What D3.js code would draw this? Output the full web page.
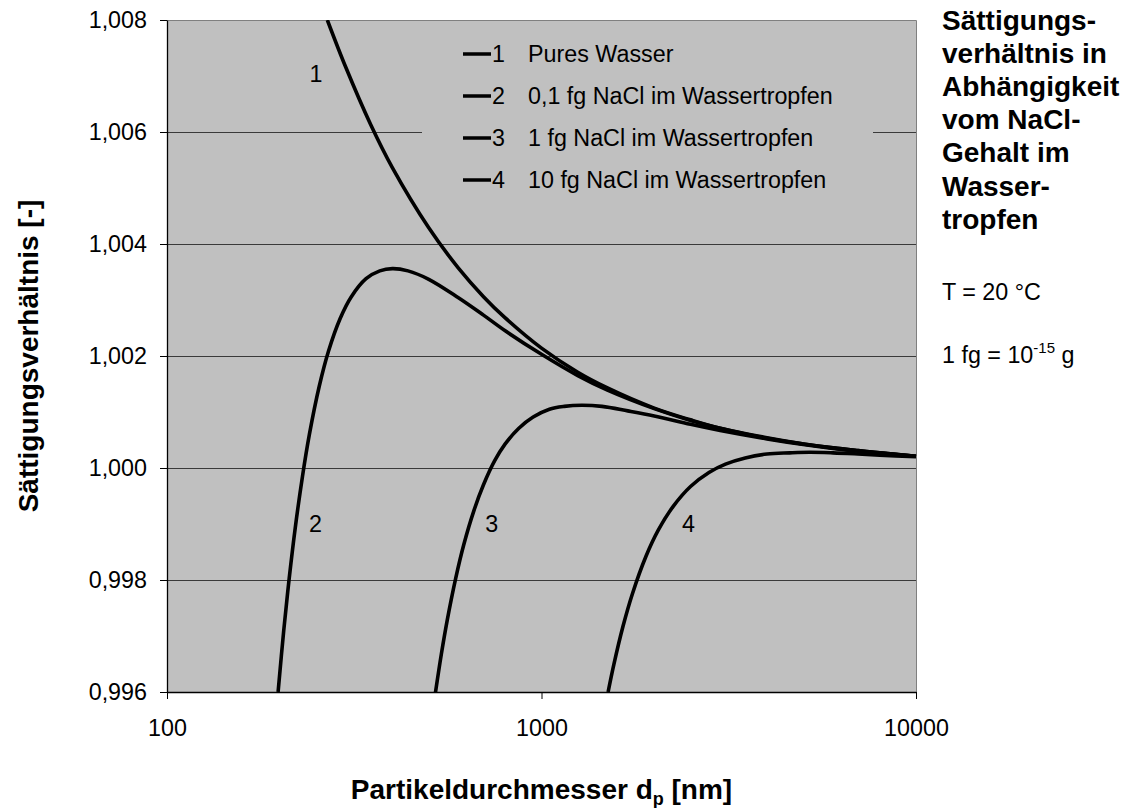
<!DOCTYPE html>
<html>
<head>
<meta charset="utf-8">
<script src="https://cdn.jsdelivr.net/npm/d3@7"></script>
<style>
  html, body { margin: 0; padding: 0; background: #ffffff; }
  svg { display: block; }
  text { font-family: "Liberation Sans", Arial, Helvetica, sans-serif; fill: #000; }
</style>
</head>
<body>
<svg id="chart" width="1127" height="808"></svg>
<script>
// ---------------- data ----------------
const xTicks = [100, 1000, 10000];
const xTickLabels = ["100", "1000", "10000"];
const yTicks = [0.996, 0.998, 1.000, 1.002, 1.004, 1.006, 1.008];
const yTickLabels = ["0,996", "0,998", "1,000", "1,002", "1,004", "1,006", "1,008"];

const seriesNames = ["Pures Wasser", "0,1 fg NaCl im Wassertropfen", "1 fg NaCl im Wassertropfen", "10 fg NaCl im Wassertropfen"];
const seriesIds = ["1", "2", "3", "4"];

// particle diameter [nm] and saturation ratio [-]
const curve1 = [
  [268, 1.00800], [300, 1.00716], [350, 1.00613], [400, 1.00536], [500, 1.00429],
  [600, 1.00357], [700, 1.00306], [800, 1.00268], [1000, 1.00214], [1250, 1.00171],
  [1500, 1.00143], [2000, 1.00107], [2500, 1.00086], [3000, 1.00071], [4000, 1.00054],
  [5000, 1.00043], [6000, 1.00036], [7000, 1.00031], [8000, 1.00027], [10000, 1.00021]
];
const curve2 = [
  [198, 0.99600], [205, 0.99710], [212, 0.99803], [220, 0.99893], [230, 0.99985],
  [240, 1.00060], [255, 1.00146], [270, 1.00209], [290, 1.00267], [310, 1.00305],
  [340, 1.00338], [370, 1.00352], [400, 1.00356], [440, 1.00352], [500, 1.00337],
  [600, 1.00304], [700, 1.00273], [800, 1.00245], [1000, 1.00203], [1250, 1.00165],
  [1500, 1.00139], [2000, 1.00106], [2500, 1.00085], [3000, 1.00071], [4000, 1.00053],
  [5000, 1.00043], [6000, 1.00036], [7000, 1.00031], [8000, 1.00027], [10000, 1.00021]
];
const curve3 = [
  [521, 0.99599], [540, 0.99667], [560, 0.99728], [590, 0.99803], [620, 0.99863],
  [660, 0.99924], [700, 0.99970], [750, 1.00013], [800, 1.00043], [870, 1.00071],
  [950, 1.00091], [1050, 1.00105], [1150, 1.00110], [1280, 1.00112], [1450, 1.00110],
  [1700, 1.00102], [2000, 1.00093], [2500, 1.00078], [3000, 1.00067], [4000, 1.00052],
  [5000, 1.00042], [6000, 1.00035], [7000, 1.00030], [8000, 1.000265], [10000, 1.00021]
];
const curve4 = [
  [1506, 0.99600], [1560, 0.99649], [1650, 0.99717], [1750, 0.99776], [1900, 0.99842],
  [2050, 0.99889], [2250, 0.99932], [2500, 0.99967], [2800, 0.99992], [3100, 1.00007],
  [3500, 1.00018], [4000, 1.00025], [4600, 1.00027], [5200, 1.00028], [6000, 1.00027],
  [7000, 1.00025], [8000, 1.00023], [10000, 1.00020]
];
const curves = [curve1, curve2, curve3, curve4];

// curve number labels (data coordinates)
const curveLabelPos = [[250, 1.00705], [249, 0.99900], [736, 0.99900], [2468, 0.99900]];

// ---------------- layout ----------------
const plot = { left: 167, right: 916, top: 20, bottom: 692 };
const svg = d3.select("#chart");

const x = d3.scaleLog().domain([100, 10000]).range([plot.left, plot.right]);
const y = d3.scaleLinear().domain([0.996, 1.008]).range([plot.bottom, plot.top]);

// plot background
svg.append("rect")
  .attr("x", plot.left).attr("y", plot.top)
  .attr("width", plot.right - plot.left).attr("height", plot.bottom - plot.top)
  .attr("fill", "#c0c0c0");

// gridlines
svg.append("g").selectAll("line")
  .data(yTicks.filter(v => v > 0.9961 && v < 1.0079))
  .join("line")
  .attr("x1", plot.left).attr("x2", plot.right)
  .attr("y1", d => Math.round(y(d)) + 0.5).attr("y2", d => Math.round(y(d)) + 0.5)
  .attr("stroke", "#3a3a3a").attr("stroke-width", 1);

// plot border (top / right)
svg.append("path")
  .attr("d", `M${plot.left},${plot.top + 0.5}H${plot.right + 0.5}V${plot.bottom}`)
  .attr("fill", "none").attr("stroke", "#808080").attr("stroke-width", 1);

// legend (same colour as plot area, covers gridline)
const legend = svg.append("g");
legend.append("rect")
  .attr("x", 422).attr("y", 32).attr("width", 451).attr("height", 172)
  .attr("fill", "#c0c0c0");
const legendRowY = [54, 96, 138, 180];
seriesNames.forEach((name, i) => {
  const ly = legendRowY[i];
  legend.append("line")
    .attr("x1", 463).attr("x2", 491).attr("y1", ly).attr("y2", ly)
    .attr("stroke", "#000").attr("stroke-width", 3.5);
  legend.append("text")
    .attr("x", 492).attr("y", ly + 8.3)
    .attr("font-size", "23.3px").text(seriesIds[i]);
  legend.append("text")
    .attr("x", 528).attr("y", ly + 8.3)
    .attr("font-size", "23.3px").text(name);
});

// clip
svg.append("clipPath").attr("id", "clip")
  .append("rect")
  .attr("x", plot.left).attr("y", plot.top)
  .attr("width", plot.right - plot.left + 4).attr("height", plot.bottom - plot.top);

const line = d3.line()
  .x(d => x(d[0])).y(d => y(d[1]))
  .curve(d3.curveCatmullRom.alpha(0.5));

svg.append("g").attr("clip-path", "url(#clip)")
  .selectAll("path")
  .data(curves)
  .join("path")
  .attr("d", line)
  .attr("fill", "none")
  .attr("stroke", "#000")
  .attr("stroke-width", 3.6)
  .attr("stroke-linejoin", "round");

// curve number labels
svg.append("g").selectAll("text")
  .data(curveLabelPos)
  .join("text")
  .attr("x", d => x(d[0])).attr("y", d => y(d[1]) + 8.3)
  .attr("text-anchor", "middle")
  .attr("font-size", "23.3px")
  .text((d, i) => seriesIds[i]);

// axes
const xAxis = d3.axisBottom(x).tickValues(xTicks)
  .tickFormat((d, i) => xTickLabels[i]).tickSizeInner(7).tickSizeOuter(0).tickPadding(20);
const gx = svg.append("g").attr("transform", `translate(0,${plot.bottom})`).call(xAxis);
gx.select(".domain").attr("stroke", "#000").attr("stroke-width", 1.3);
gx.selectAll(".tick line").attr("stroke", "#000");
gx.selectAll(".tick text")
  .attr("font-family", "Liberation Sans, Arial, sans-serif")
  .attr("font-size", "23.3px").attr("fill", "#000");

const yAxis = d3.axisLeft(y).tickValues(yTicks)
  .tickFormat((d, i) => yTickLabels[i]).tickSizeInner(7).tickSizeOuter(0).tickPadding(13);
const gy = svg.append("g").attr("transform", `translate(${plot.left},0)`).call(yAxis);
gy.select(".domain").attr("stroke", "#000").attr("stroke-width", 1.3);
gy.selectAll(".tick line").attr("stroke", "#000");
gy.selectAll(".tick text")
  .attr("font-family", "Liberation Sans, Arial, sans-serif")
  .attr("font-size", "23.3px").attr("fill", "#000");

// axis titles
const xTitle = svg.append("text")
  .attr("x", (plot.left + plot.right) / 2).attr("y", 799)
  .attr("text-anchor", "middle")
  .attr("font-size", "28px").attr("font-weight", "bold");
xTitle.append("tspan").text("Partikeldurchmesser d");
xTitle.append("tspan").attr("font-size", "18px").attr("dy", 6).text("p");
xTitle.append("tspan").attr("dy", -6).text(" [nm]");

svg.append("text")
  .attr("transform", `translate(38,${(plot.top + plot.bottom) / 2}) rotate(-90)`)
  .attr("text-anchor", "middle")
  .attr("font-size", "28px").attr("font-weight", "bold")
  .text("Sättigungsverhältnis [-]");

// right-hand side title block
const titleLines = ["Sättigungs-", "verhältnis in", "Abhängigkeit", "vom NaCl-", "Gehalt im", "Wasser-", "tropfen"];
svg.append("g").selectAll("text")
  .data(titleLines)
  .join("text")
  .attr("x", 942).attr("y", (d, i) => 30 + i * 33.1)
  .attr("font-size", "28px").attr("font-weight", "bold")
  .text(d => d);

svg.append("text")
  .attr("x", 942).attr("y", 300)
  .attr("font-size", "23.3px")
  .text("T = 20 °C");

const fg = svg.append("text").attr("x", 942).attr("y", 363).attr("font-size", "23.3px");
fg.append("tspan").text("1 fg = 10");
fg.append("tspan").attr("font-size", "15px").attr("dy", -10).text("-15");
fg.append("tspan").attr("dy", 10).text(" g");
</script>
</body>
</html>
